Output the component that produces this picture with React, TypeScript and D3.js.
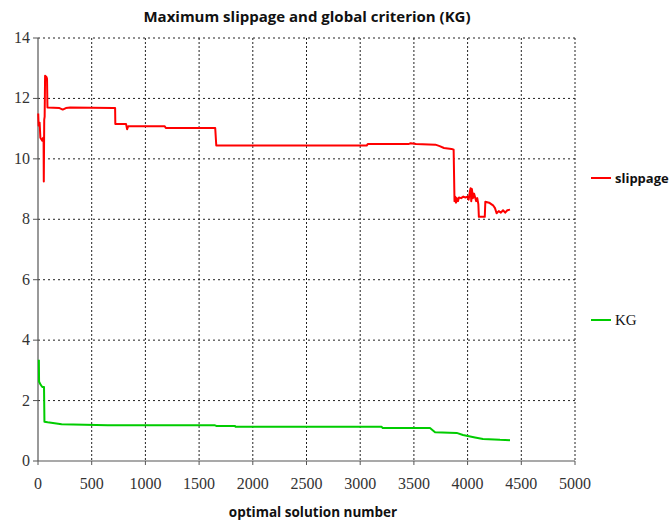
import * as d3 from 'd3';

const xTicks = [0, 500, 1000, 1500, 2000, 2500, 3000, 3500, 4000, 4500, 5000];
const yTicks = [0, 2, 4, 6, 8, 10, 12, 14];

// optimal solution number vs maximum slippage
const slippageX = [2, 6, 15, 22, 40, 48, 52, 54, 58, 62, 66, 80, 84, 88, 200, 230, 260, 300, 700, 718, 720, 820, 830, 840, 1180, 1190, 1650, 1660, 3060, 3070, 3450, 3470, 3520, 3700, 3740, 3780, 3850, 3870, 3878, 3885, 3892, 3900, 3910, 3920, 3940, 3960, 3980, 4000, 4010, 4020, 4028, 4034, 4040, 4050, 4060, 4080, 4090, 4100, 4105, 4160, 4165, 4200, 4240, 4255, 4270, 4290, 4310, 4330, 4350, 4370, 4395];
const slippageY = [11.5, 11.1, 11.2, 10.7, 10.6, 10.7, 10.6, 9.25, 11.3, 11.4, 12.75, 12.7, 12.65, 11.7, 11.68, 11.63, 11.68, 11.7, 11.68, 11.68, 11.15, 11.15, 10.98, 11.08, 11.08, 11.02, 11.02, 10.44, 10.44, 10.49, 10.49, 10.52, 10.49, 10.47, 10.42, 10.36, 10.33, 10.3, 8.6, 8.75, 8.55, 8.7, 8.6, 8.72, 8.7, 8.75, 8.72, 8.75, 8.65, 8.9, 9.03, 8.6, 9.0, 8.7, 8.85, 8.6, 8.7, 8.5, 8.08, 8.08, 8.58, 8.55, 8.45, 8.37, 8.2, 8.27, 8.22, 8.3, 8.22, 8.3, 8.32];

// optimal solution number vs global criterion KG
const kgX = [8, 10, 14, 20, 30, 40, 56, 60, 90, 220, 650, 1648, 1660, 1834, 1840, 3200, 3210, 3650, 3697, 3898, 3957, 4069, 4143, 4302, 4395];
const kgY = [3.35, 2.62, 2.6, 2.55, 2.5, 2.45, 2.45, 1.3, 1.28, 1.22, 1.18, 1.18, 1.16, 1.16, 1.13, 1.13, 1.09, 1.09, 0.95, 0.93, 0.86, 0.78, 0.73, 0.7, 0.69];

const seriesNames = ['slippage', 'KG'];

const W = 671;
const H = 522;
const margin = { left: 38, right: 96, top: 38, bottom: 61 };

export default function App() {
  const x = d3.scaleLinear().domain([0, 5000]).range([margin.left, W - margin.right]);
  const y = d3.scaleLinear().domain([0, 14]).range([H - margin.bottom, margin.top]);

  const line = d3
    .line<[number, number]>()
    .x((d) => x(d[0]))
    .y((d) => y(d[1]));

  const slipPts = slippageX.map((v, i) => [v, slippageY[i]] as [number, number]);
  const kgPts = kgX.map((v, i) => [v, kgY[i]] as [number, number]);

  const x0 = x(0);
  const y0 = y(0);
  const xEnd = x(5000);
  const yTop = y(14);

  return (
    <svg
      width={W}
      height={H}
      style={{ position: 'absolute', left: 0, top: 0, background: '#fff' }}
    >
      <text
        x={307}
        y={22}
        textAnchor="middle"
        fontFamily="'Open Sans', sans-serif"
        fontWeight="bold"
        fontSize={15}
        fill="#111"
      >
        Maximum slippage and global criterion (KG)
      </text>

      {/* grid */}
      {yTicks.filter((t) => t > 0).map((t) => (
        <line
          key={'gy' + t}
          x1={x0}
          x2={xEnd}
          y1={y(t)}
          y2={y(t)}
          stroke="#222"
          strokeWidth={1}
          strokeDasharray="2,3"
        />
      ))}
      {xTicks.filter((t) => t > 0).map((t) => (
        <line
          key={'gx' + t}
          x1={x(t)}
          x2={x(t)}
          y1={yTop}
          y2={y0}
          stroke="#222"
          strokeWidth={1}
          strokeDasharray="2,2"
        />
      ))}

      {/* axes */}
      <line x1={x0} x2={x0} y1={yTop} y2={y0} stroke="#555" strokeWidth={1.2} />
      <line x1={x0} x2={xEnd} y1={y0} y2={y0} stroke="#555" strokeWidth={1.2} />
      {yTicks.map((t) => (
        <g key={'ty' + t}>
          <line x1={x0 - 5} x2={x0} y1={y(t)} y2={y(t)} stroke="#555" />
          <text
            x={x0 - 8}
            y={y(t) + 5}
            textAnchor="end"
            fontFamily="'Liberation Serif', serif"
            fontSize={16}
            fill="#333"
          >
            {t}
          </text>
        </g>
      ))}
      {xTicks.map((t) => (
        <g key={'tx' + t}>
          <line x1={x(t)} x2={x(t)} y1={y0} y2={y0 + 4} stroke="#555" />
          <text
            x={x(t)}
            y={y0 + 28}
            textAnchor="middle"
            fontFamily="'Liberation Serif', serif"
            fontSize={16}
            fill="#333"
          >
            {t}
          </text>
        </g>
      ))}

      <text
        x={313}
        y={517}
        textAnchor="middle"
        fontFamily="'Open Sans', sans-serif"
        fontWeight="bold"
        fontSize={13.5}
        fill="#111"
      >
        optimal solution number
      </text>

      {/* series */}
      <path d={line(slipPts) ?? ''} fill="none" stroke="#ff0000" strokeWidth={2} strokeLinejoin="round" />
      <path d={line(kgPts) ?? ''} fill="none" stroke="#00cc00" strokeWidth={2} strokeLinejoin="round" />

      {/* legend */}
      <line x1={591} x2={611} y1={178} y2={178} stroke="#ff0000" strokeWidth={2} />
      <text x={615} y={183} fontFamily="'Open Sans', sans-serif" fontWeight="bold" fontSize={13} fill="#111">
        {seriesNames[0]}
      </text>
      <line x1={591} x2={611} y1={320} y2={320} stroke="#00cc00" strokeWidth={2} />
      <text x={615} y={325} fontFamily="'Liberation Serif', serif" fontSize={15} fill="#111">
        {seriesNames[1]}
      </text>
    </svg>
  );
}
